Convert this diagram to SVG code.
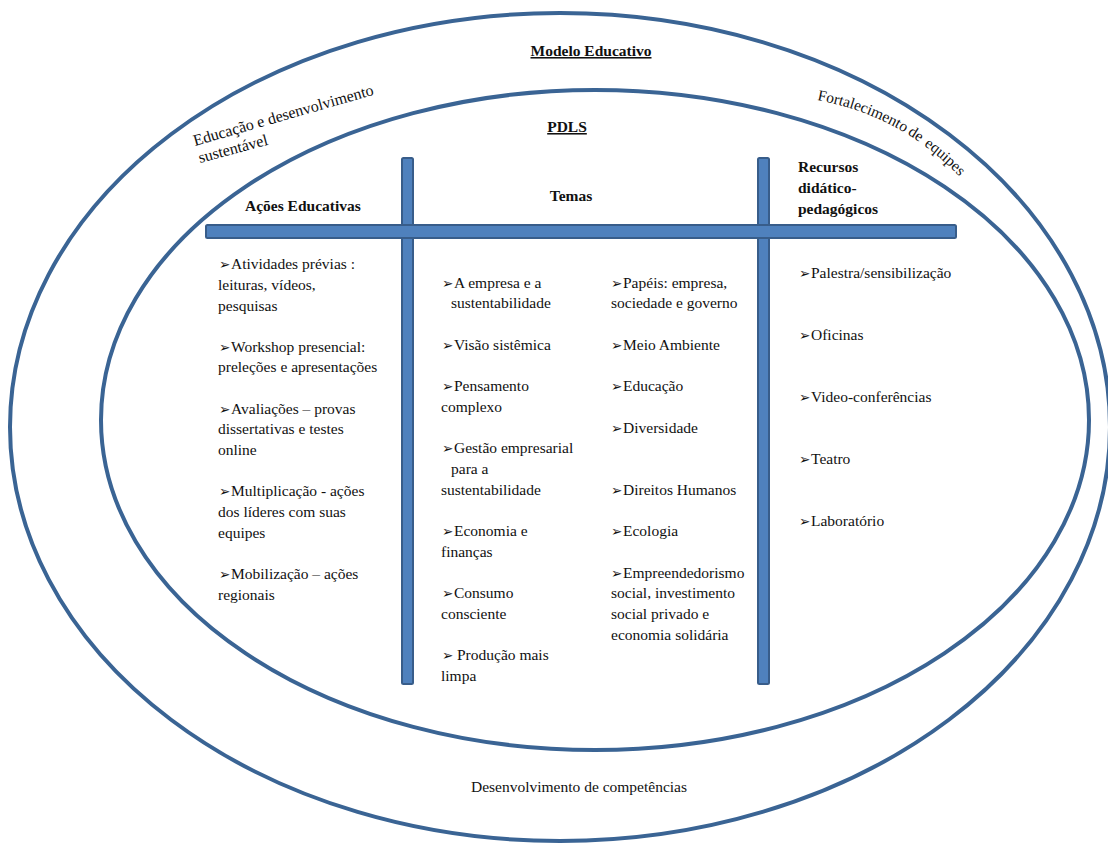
<svg xmlns="http://www.w3.org/2000/svg" width="1108" height="844" viewBox="0 0 1108 844">
<style>
  .ell { fill: none; stroke: #3A6494; stroke-width: 4; }
  .bar { fill: #4F81BD; stroke: #385D8A; stroke-width: 2; }
  text { font-family: "Liberation Serif", "Times New Roman", serif; font-size: 15.5px; fill: #111; }
  .h { font-weight: bold; }
  .u { text-decoration: underline; }
  .b { font-family: "DejaVu Sans", sans-serif; font-size: 13.5px; }
</style>
<defs>
  <path id="arcR" d="M 817 100 Q 908 117 968 186"/>
</defs>
<rect width="1108" height="844" fill="#ffffff"/>

<g id="outer-ellipse">
  <ellipse class="ell" cx="560" cy="427" rx="550" ry="414"/>
  <text class="h u" x="591" y="56" text-anchor="middle">Modelo Educativo</text>
  <text transform="translate(195,146) rotate(-16)" style="font-size:16px">Educação e desenvolvimento</text>
  <text transform="translate(200,163) rotate(-15)" style="font-size:16px">sustentável</text>
  <text><textPath href="#arcR" startOffset="0">Fortalecimento</textPath></text>
  <text><textPath href="#arcR" startOffset="97">de</textPath></text>
  <text><textPath href="#arcR" startOffset="117">equipes</textPath></text>
  <text x="579" y="792" text-anchor="middle">Desenvolvimento de competências</text>
</g>

<g id="inner-ellipse">
  <ellipse class="ell" cx="595" cy="420" rx="494" ry="330"/>
  <text class="h u" x="567" y="132" text-anchor="middle">PDLS</text>
</g>

<g id="connectors">
  <rect class="bar" x="402" y="158" width="11" height="526" rx="1.5"/>
  <rect class="bar" x="758" y="158" width="11" height="526" rx="1.5"/>
  <rect class="bar" x="206" y="225" width="750" height="13" rx="1.5"/>
  <rect x="403" y="226" width="9" height="11" fill="#4F81BD"/>
  <rect x="759" y="226" width="9" height="11" fill="#4F81BD"/>
</g>

<g id="acoes-educativas">
  <text class="h" x="245" y="211">Ações Educativas</text>
  <text class="b" x="219" y="269">➢</text><text x="231" y="269">Atividades prévias :</text>
  <text x="218" y="290">leituras, vídeos,</text>
  <text x="218" y="311">pesquisas</text>
  <text class="b" x="219" y="352">➢</text><text x="231" y="352">Workshop presencial:</text>
  <text x="218" y="372">preleções e apresentações</text>
  <text class="b" x="219" y="414">➢</text><text x="231" y="414">Avaliações – provas</text>
  <text x="218" y="434">dissertativas e testes</text>
  <text x="218" y="455">online</text>
  <text class="b" x="219" y="496">➢</text><text x="231" y="496">Multiplicação - ações</text>
  <text x="218" y="517">dos líderes com suas</text>
  <text x="218" y="538">equipes</text>
  <text class="b" x="219" y="579">➢</text><text x="231" y="579">Mobilização – ações</text>
  <text x="218" y="600">regionais</text>
</g>

<g id="temas">
  <text class="h" x="571" y="201" text-anchor="middle">Temas</text>
  <text class="b" x="442" y="288">➢</text><text x="454" y="288">A empresa e a</text>
  <text x="451" y="308">sustentabilidade</text>
  <text class="b" x="442" y="350">➢</text><text x="454" y="350">Visão sistêmica</text>
  <text class="b" x="442" y="391">➢</text><text x="454" y="391">Pensamento</text>
  <text x="441" y="412">complexo</text>
  <text class="b" x="442" y="453">➢</text><text x="454" y="453">Gestão empresarial</text>
  <text x="451" y="474">para a</text>
  <text x="441" y="495">sustentabilidade</text>
  <text class="b" x="442" y="536">➢</text><text x="454" y="536">Economia e</text>
  <text x="441" y="557">finanças</text>
  <text class="b" x="442" y="598">➢</text><text x="454" y="598">Consumo</text>
  <text x="441" y="619">consciente</text>
  <text class="b" x="442" y="660">➢</text><text x="457" y="660">Produção mais</text>
  <text x="441" y="681">limpa</text>

  <text class="b" x="611" y="288">➢</text><text x="623" y="288">Papéis: empresa,</text>
  <text x="611" y="308">sociedade e governo</text>
  <text class="b" x="611" y="350">➢</text><text x="623" y="350">Meio Ambiente</text>
  <text class="b" x="611" y="391">➢</text><text x="623" y="391">Educação</text>
  <text class="b" x="611" y="433">➢</text><text x="623" y="433">Diversidade</text>
  <text class="b" x="611" y="495">➢</text><text x="623" y="495">Direitos Humanos</text>
  <text class="b" x="611" y="536">➢</text><text x="623" y="536">Ecologia</text>
  <text class="b" x="611" y="578">➢</text><text x="623" y="578">Empreendedorismo</text>
  <text x="611" y="598">social, investimento</text>
  <text x="611" y="619">social privado e</text>
  <text x="611" y="640">economia solidária</text>
</g>

<g id="recursos">
  <text class="h" x="798" y="172">Recursos</text>
  <text class="h" x="798" y="193">didático-</text>
  <text class="h" x="798" y="214">pedagógicos</text>
  <text class="b" x="799" y="278">➢</text><text x="811" y="278">Palestra/sensibilização</text>
  <text class="b" x="799" y="340">➢</text><text x="811" y="340">Oficinas</text>
  <text class="b" x="799" y="402">➢</text><text x="811" y="402">Video-conferências</text>
  <text class="b" x="799" y="464">➢</text><text x="811" y="464">Teatro</text>
  <text class="b" x="799" y="526">➢</text><text x="811" y="526">Laboratório</text>
</g>
</svg>
